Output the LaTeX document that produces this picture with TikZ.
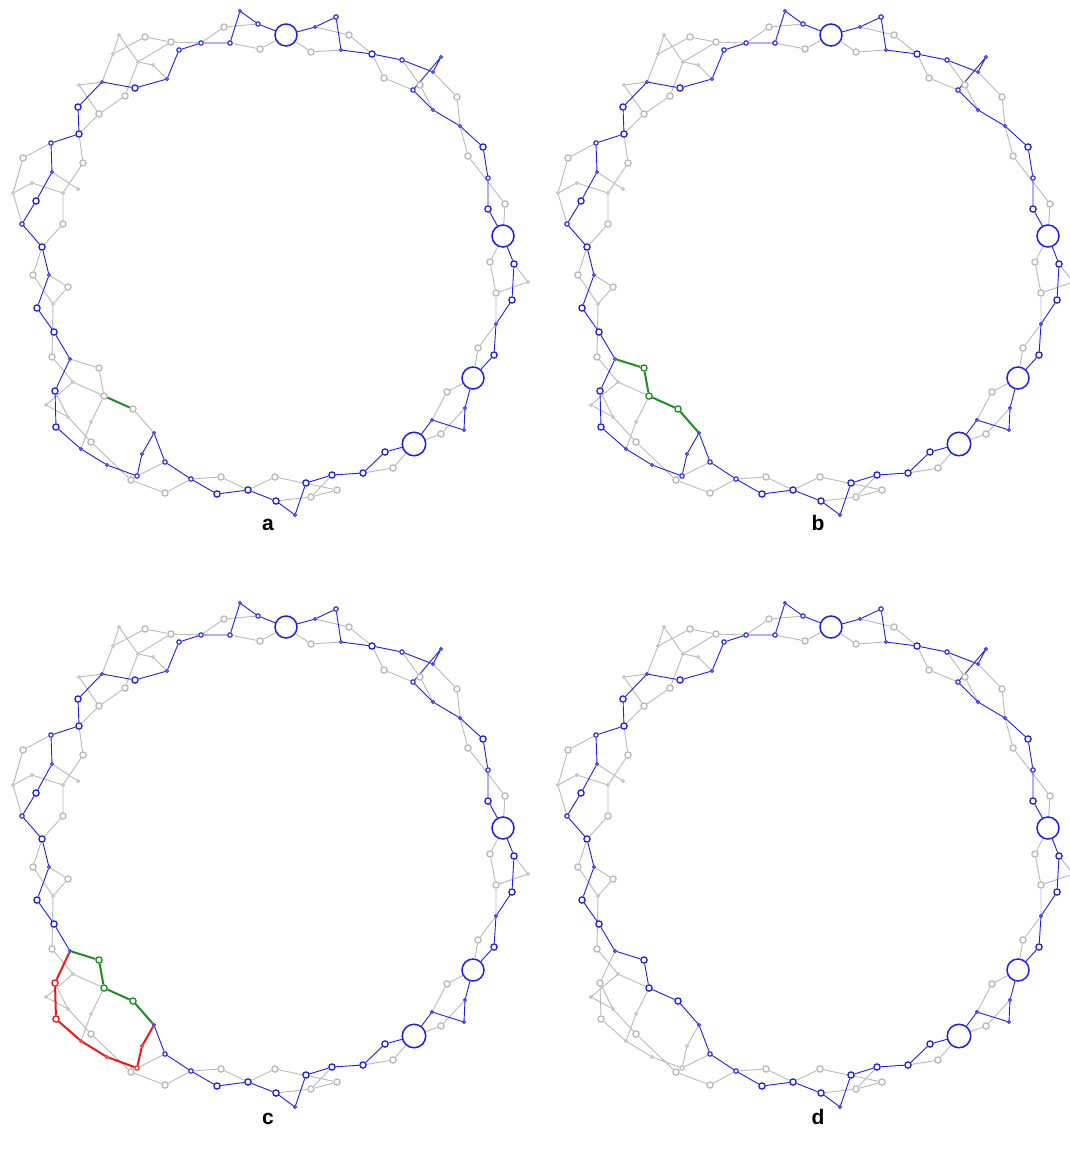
\documentclass[tikz,border=0pt]{standalone}
\usepackage{fontspec}
\newfontfamily\lblfont{Liberation Sans}
\definecolor{blueC}{RGB}{30,30,235}
\definecolor{grayC}{RGB}{185,185,185}
\definecolor{greenC}{RGB}{34,139,34}
\definecolor{redC}{RGB}{235,25,25}
\pgfdeclarelayer{bg}
\pgfsetlayers{bg,main}
\tikzset{
  nd/.style={circle,fill=white,inner sep=0pt},
  szS/.style={minimum size=2.8pt,line width=0.9pt},
  szT/.style={minimum size=4.4pt,line width=1.1pt},
  szM/.style={minimum size=6.2pt,line width=1.3pt},
  szL/.style={minimum size=22pt,line width=1.5pt},
  szX/.style={minimum size=23.5pt,line width=1.5pt},
  cb/.style={draw=blueC},
  cg/.style={draw=grayC},
  cgr/.style={draw=greenC},
  cr/.style={draw=redC},
  ge/.style={draw=grayC,line width=0.9pt},
  be/.style={draw=blueC,line width=0.9pt},
  gre/.style={draw=greenC,line width=2pt},
  rede/.style={draw=redC,line width=2pt},
  lbl/.style={font=\lblfont\bfseries\fontsize{21}{24}\selectfont,inner sep=0pt,anchor=base}
}
\newcommand\panelgraph[1]{%
  % blue path nodes
  \node[nd,cb,szS] (#1n1) at (240,11) {};
  \node[nd,cb,szT] (#1n2) at (258,24) {};
  \node[nd,cb,szL] (#1B1) at (286,35) {};
  \node[nd,cb,szT] (#1n3) at (230,43) {};
  \node[nd,cb,szT] (#1n4) at (201,43) {};
  \node[nd,cb,szT] (#1n5) at (179,50) {};
  \node[nd,cb,szS] (#1n6) at (167,79) {};
  \node[nd,cb,szM] (#1n7) at (135,88) {};
  \node[nd,cb,szS] (#1n8) at (102,82) {};
  \node[nd,cb,szM] (#1n9) at (78,107) {};
  \node[nd,cb,szM] (#1n10) at (79,134) {};
  \node[nd,cb,szT] (#1n11) at (51,143) {};
  \node[nd,cb,szS] (#1n12) at (52,172) {};
  \node[nd,cb,szM] (#1n13) at (36,201) {};
  \node[nd,cb,szT] (#1n14) at (22,224) {};
  \node[nd,cb,szM] (#1n15) at (42,247) {};
  \node[nd,cb,szS] (#1n16) at (49,275) {};
  \node[nd,cb,szM] (#1n17) at (37,308) {};
  \node[nd,cb,szM] (#1n18) at (54,332) {};
  \node[nd,cb,szS] (#1n19) at (70,359) {};
  \node[nd,oldN,szM] (#1n20) at (55,391) {};
  \node[nd,oldN,szM] (#1n21) at (56,427) {};
  \node[nd,oldN,szS] (#1n22) at (81,449) {};
  \node[nd,oldN,szS] (#1n23) at (107,465) {};
  \node[nd,oldN,szT] (#1n24) at (137,476) {};
  \node[nd,oldN,szS] (#1n25) at (142,454) {};
  \node[nd,cb,szS] (#1n26) at (154,433) {};
  \node[nd,cb,szT] (#1n27) at (165,462) {};
  \node[nd,cb,szT] (#1n28) at (191,479) {};
  \node[nd,cb,szM] (#1n29) at (217,494) {};
  \node[nd,cb,szM] (#1n30) at (248,490) {};
  \node[nd,cb,szM] (#1n31) at (276,501) {};
  \node[nd,cb,szS] (#1n32) at (295,515) {};
  \node[nd,cb,szM] (#1n33) at (306,483) {};
  \node[nd,cb,szM] (#1n34) at (332,475) {};
  \node[nd,cb,szM] (#1n35) at (363,473) {};
  \node[nd,cb,szM] (#1n36) at (385,452) {};
  \node[nd,cb,szX] (#1B2) at (414,444) {};
  \node[nd,cb,szS] (#1n37) at (432,420) {};
  \node[nd,cb,szS] (#1n38) at (464,430) {};
  \node[nd,cb,szS] (#1n39) at (465,408) {};
  \node[nd,cb,szL] (#1B3) at (473,378) {};
  \node[nd,cb,szM] (#1n40) at (494,355) {};
  \node[nd,cb,szS] (#1n41) at (496,324) {};
  \node[nd,cb,szM] (#1n42) at (512,300) {};
  \node[nd,cb,szM] (#1n43) at (514,264) {};
  \node[nd,cb,szL] (#1B4) at (503,236) {};
  \node[nd,cb,szM] (#1n44) at (488,209) {};
  \node[nd,cb,szT] (#1n45) at (488,178) {};
  \node[nd,cb,szM] (#1n46) at (483,147) {};
  \node[nd,cb,szS] (#1n47) at (460,126) {};
  \node[nd,cb,szS] (#1n48) at (433,110) {};
  \node[nd,cb,szT] (#1n49) at (413,90) {};
  \node[nd,cb,szS] (#1n50) at (441,57) {};
  \node[nd,cb,szS] (#1n51) at (433,72) {};
  \node[nd,cb,szT] (#1n52) at (402,60) {};
  \node[nd,cb,szM] (#1n53) at (372,54) {};
  \node[nd,cb,szS] (#1n54) at (341,50) {};
  \node[nd,cb,szT] (#1n55) at (336,17) {};
  \node[nd,cb,szS] (#1n56) at (315,27) {};
  % alternative route nodes
  \node[nd,altN,szM] (#1g23) at (99,368) {};
  \node[nd,altN,szM] (#1g25) at (104,396) {};
  \node[nd,altN,szM] (#1g29) at (133,409) {};
  % gray nodes
  \node[nd,cg,szM] (#1g1) at (224,27) {};
  \node[nd,cg,szM] (#1g2) at (260,49) {};
  \node[nd,cg,szM] (#1g3) at (171,42) {};
  \node[nd,cg,szM] (#1g4) at (145,37) {};
  \node[nd,cg,szS] (#1g5) at (119,35) {};
  \node[nd,cg,szS] (#1g6) at (113,54) {};
  \node[nd,cg,szS] (#1g7) at (138,62) {};
  \node[nd,cg,szS] (#1g8) at (153,65) {};
  \node[nd,cg,szM] (#1g9) at (125,96) {};
  \node[nd,cg,szM] (#1g10) at (99,114) {};
  \node[nd,cg,szS] (#1g11) at (79,85) {};
  \node[nd,cg,szM] (#1g12) at (23,158) {};
  \node[nd,cg,szM] (#1g13) at (83,163) {};
  \node[nd,cg,szS] (#1g14) at (32,183) {};
  \node[nd,cg,szS] (#1g15) at (13,193) {};
  \node[nd,cg,szS] (#1g16) at (63,193) {};
  \node[nd,cg,szS] (#1g17) at (78,189) {};
  \node[nd,cg,szM] (#1g18) at (63,224) {};
  \node[nd,cg,szM] (#1g19) at (33,275) {};
  \node[nd,cg,szM] (#1g20) at (68,287) {};
  \node[nd,cg,szS] (#1g21) at (53,304) {};
  \node[nd,cg,szM] (#1g22) at (52,357) {};
  \node[nd,cg,szS] (#1g24) at (73,382) {};
  \node[nd,cg,szS] (#1g26) at (46,405) {};
  \node[nd,cg,szS] (#1g27) at (68,417) {};
  \node[nd,cg,szS] (#1g28) at (91,422) {};
  \node[nd,cg,szM] (#1g30) at (91,442) {};
  \node[nd,cg,szM] (#1g31) at (131,480) {};
  \node[nd,cg,szM] (#1g32) at (165,493) {};
  \node[nd,cg,szM] (#1g33) at (221,477) {};
  \node[nd,cg,szM] (#1g34) at (275,477) {};
  \node[nd,cg,szM] (#1g35) at (311,497) {};
  \node[nd,cg,szM] (#1g36) at (337,490) {};
  \node[nd,cg,szM] (#1g37) at (393,468) {};
  \node[nd,cg,szM] (#1g38) at (441,434) {};
  \node[nd,cg,szM] (#1g39) at (447,392) {};
  \node[nd,cg,szM] (#1g40) at (478,348) {};
  \node[nd,cg,szM] (#1g41) at (496,293) {};
  \node[nd,cg,szS] (#1g42) at (528,282) {};
  \node[nd,cg,szM] (#1g43) at (490,262) {};
  \node[nd,cg,szM] (#1g44) at (505,204) {};
  \node[nd,cg,szM] (#1g45) at (468,156) {};
  \node[nd,cg,szM] (#1g46) at (457,97) {};
  \node[nd,cg,szM] (#1g47) at (420,85) {};
  \node[nd,cg,szM] (#1g48) at (384,78) {};
  \node[nd,cg,szM] (#1g49) at (349,35) {};
  \node[nd,cg,szM] (#1g50) at (311,52) {};
  \begin{pgfonlayer}{bg}
  % gray edges
  \draw[ge] (#1g1) -- (#1n4) (#1g1) -- (#1n2) (#1g2) -- (#1n3) (#1g2) -- (#1B1)
    (#1g3) -- (#1n4) (#1g4) -- (#1g3) (#1g4) -- (#1g6) (#1g5) -- (#1g6)
    (#1g5) -- (#1g7) (#1g3) -- (#1g7) (#1g7) -- (#1g8) (#1g8) -- (#1n6)
    (#1g7) -- (#1g9) (#1g6) -- (#1n8) (#1g9) -- (#1g10) (#1g11) -- (#1g10)
    (#1g11) -- (#1n8) (#1g10) -- (#1n10) (#1n10) -- (#1g13) (#1g13) -- (#1g16)
    (#1n11) -- (#1g12) (#1g12) -- (#1g15) (#1g15) -- (#1g14) (#1g14) -- (#1g16)
    (#1n12) -- (#1g17) (#1g16) -- (#1g18) (#1g18) -- (#1n15) (#1g15) -- (#1n14)
    (#1n15) -- (#1g19) (#1g19) -- (#1g21) (#1n16) -- (#1g20) (#1g20) -- (#1g21)
    (#1g21) -- (#1g22) (#1g22) -- (#1g24) (#1g24) -- (#1g25) (#1g24) -- (#1g26)
    (#1n20) -- (#1g27) (#1g26) -- (#1g27) (#1g27) -- (#1g30) (#1g30) -- (#1g31)
    (#1g25) -- (#1g28) (#1g28) -- (#1n22) (#1n24) -- (#1n27) (#1g31) -- (#1g32)
    (#1g32) -- (#1n28) (#1n28) -- (#1g33) (#1g33) -- (#1n30) (#1n30) -- (#1g34)
    (#1g34) -- (#1g36) (#1n34) -- (#1g35) (#1g35) -- (#1g36) (#1n31) -- (#1g35)
    (#1n35) -- (#1g37) (#1g37) -- (#1B2) (#1B2) -- (#1g38) (#1g38) -- (#1n39)
    (#1B3) -- (#1g39) (#1g39) -- (#1n37) (#1B3) -- (#1g40) (#1g40) -- (#1n41)
    (#1n41) -- (#1g41) (#1g41) -- (#1g42) (#1g42) -- (#1n43) (#1g41) -- (#1g43)
    (#1g43) -- (#1B4) (#1B4) -- (#1g44) (#1g44) -- (#1g45) (#1n47) -- (#1g45)
    (#1g46) -- (#1n47) (#1n51) -- (#1g46) (#1n52) -- (#1g47) (#1g47) -- (#1n48)
    (#1n53) -- (#1g48) (#1g48) -- (#1n49) (#1n56) -- (#1g49) (#1g49) -- (#1n53)
    (#1B1) -- (#1g50) (#1g50) -- (#1n54);
  % variable edges
  \draw[oldE] (#1n19) -- (#1n20) -- (#1n21) -- (#1n22) -- (#1n23) -- (#1n24) -- (#1n25) -- (#1n26);
  \draw[altE] (#1n19) -- (#1g23) -- (#1g25);
  \draw[altE] (#1g29) -- (#1n26);
  \draw[midE] (#1g25) -- (#1g29);
  % main blue path
  \draw[be] (#1B1) -- (#1n2) -- (#1n1) -- (#1n3) -- (#1n4) -- (#1n5) -- (#1n6) -- (#1n7)
    -- (#1n8) -- (#1n9) -- (#1n10) -- (#1n11) -- (#1n12) -- (#1n13) -- (#1n14) -- (#1n15)
    -- (#1n16) -- (#1n17) -- (#1n18) -- (#1n19);
  \draw[be] (#1n26) -- (#1n27) -- (#1n28) -- (#1n29) -- (#1n30) -- (#1n31) -- (#1n32)
    -- (#1n33) -- (#1n34) -- (#1n35) -- (#1n36) -- (#1B2) -- (#1n37) -- (#1n38) -- (#1n39)
    -- (#1B3) -- (#1n40) -- (#1n41) -- (#1n42) -- (#1n43) -- (#1B4) -- (#1n44) -- (#1n45)
    -- (#1n46) -- (#1n47) -- (#1n48) -- (#1n49) -- (#1n50) -- (#1n51) -- (#1n52) -- (#1n53)
    -- (#1n54) -- (#1n55) -- (#1n56) -- (#1B1);
  \end{pgfonlayer}
}
\begin{document}
\begin{tikzpicture}[x=1pt,y=-1pt]
\useasboundingbox (0,0) rectangle (1069,1151);
% panel a
\begin{scope}[altN/.style={cg},oldN/.style={cb},altE/.style={ge},midE/.style={gre},oldE/.style={be}]
  \panelgraph{a}
\end{scope}
% panel b
\begin{scope}[shift={(545,0)},altN/.style={cgr},oldN/.style={cb},altE/.style={gre},midE/.style={gre},oldE/.style={be}]
  \panelgraph{b}
\end{scope}
% panel c
\begin{scope}[shift={(0,592)},altN/.style={cgr},oldN/.style={cr},altE/.style={gre},midE/.style={gre},oldE/.style={rede}]
  \panelgraph{c}
\end{scope}
% panel d
\begin{scope}[shift={(545,592)},altN/.style={cb},oldN/.style={cg},altE/.style={be},midE/.style={be},oldE/.style={ge}]
  \panelgraph{d}
\end{scope}
\node[lbl] (la) at (268,530) {a};
\node[lbl] (lb) at (818,530) {b};
\node[lbl] (lc) at (268,1124) {c};
\node[lbl] (ld) at (818,1124) {d};
\end{tikzpicture}
\end{document}
